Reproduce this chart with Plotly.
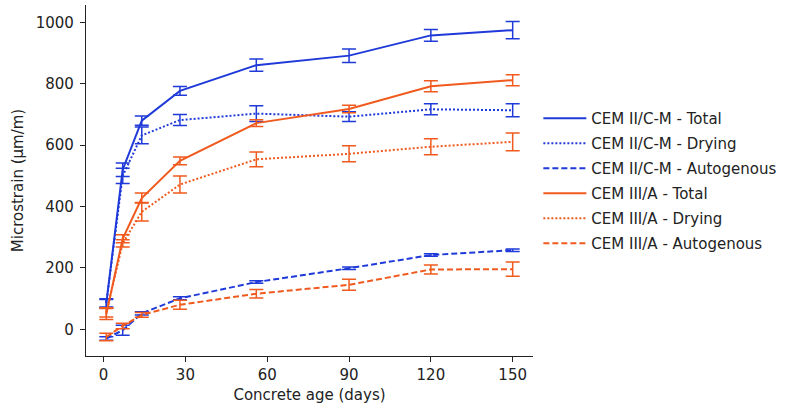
import plotly.graph_objects as go

days = [1, 7, 14, 28, 56, 90, 120, 150]

c2_total = [85, 520, 680, 777, 861, 892, 958, 975]
c2_total_err = [15, 22, 15, 14, 20, 22, 19, 28]
c2_drying = [85, 500, 632, 682, 703, 693, 717, 714]
c2_drying_err = [12, 25, 27, 18, 26, 16, 18, 21]
c2_auto = [-30, -3, 52, 101, 154, 199, 242, 258]
c2_auto_err = [6, 16, 5, 5, 4, 4, 4, 4]

c3_total = [50, 295, 428, 549, 672, 718, 792, 812]
c3_total_err = [18, 13, 16, 13, 11, 12, 18, 18]
c3_drying = [55, 280, 383, 472, 554, 572, 595, 611]
c3_drying_err = [15, 12, 30, 28, 24, 26, 26, 29]
c3_auto = [-25, 11, 47, 80, 116, 145, 195, 196]
c3_auto_err = [12, 9, 8, 15, 14, 18, 15, 23]

BLUE = "#1f3ad8"
ORANGE = "#f05a1e"

series = [
    ("CEM II/C-M - Total", c2_total, c2_total_err, BLUE, "solid"),
    ("CEM II/C-M - Drying", c2_drying, c2_drying_err, BLUE, "2px,2px"),
    ("CEM II/C-M - Autogenous", c2_auto, c2_auto_err, BLUE, "6px,3px"),
    ("CEM III/A - Total", c3_total, c3_total_err, ORANGE, "solid"),
    ("CEM III/A - Drying", c3_drying, c3_drying_err, ORANGE, "2px,2px"),
    ("CEM III/A - Autogenous", c3_auto, c3_auto_err, ORANGE, "6px,3px"),
]

fig = go.Figure()
for i, (name, vals, errs, col, dash) in enumerate(series):
    fig.add_trace(go.Scatter(
        x=days, y=vals, name=name, mode="lines", legendgroup=f"g{i}",
        line=dict(color=col, width=2, dash=dash),
        error_y=dict(type="data", array=errs, visible=True, color=col,
                     thickness=1.5, width=7),
    ))

FS = 15
axis_common = dict(
    showline=True, linecolor="#222", linewidth=1.2,
    ticks="outside", ticklen=5, tickcolor="#222", tickwidth=1.2,
    showgrid=False, zeroline=False,
    tickfont=dict(size=FS, color="#222"),
)

fig.update_layout(
    width=796, height=415,
    margin=dict(l=86, r=263, t=5, b=59),
    paper_bgcolor="white", plot_bgcolor="white",
    font=dict(family="DejaVu Sans", size=FS, color="#222"),
    xaxis=dict(range=[-6.45, 157.45], tickvals=[0, 30, 60, 90, 120, 150],
               title=dict(text="Concrete age (days)", font=dict(size=FS), standoff=6),
               **axis_common),
    yaxis=dict(range=[-87, 1057], tickvals=[0, 200, 400, 600, 800, 1000],
               title=dict(text="Microstrain (μm/m)", font=dict(size=FS), standoff=8),
               ticklabelstandoff=3,
               **axis_common),
    legend=dict(x=1.012, y=0.724, xanchor="left", yanchor="top",
                font=dict(size=FS, color="#222"), bgcolor="rgba(0,0,0,0)",
                itemwidth=43, tracegroupgap=2.5, traceorder="grouped"),
    showlegend=True,
)

fig.write_html("out.html")
